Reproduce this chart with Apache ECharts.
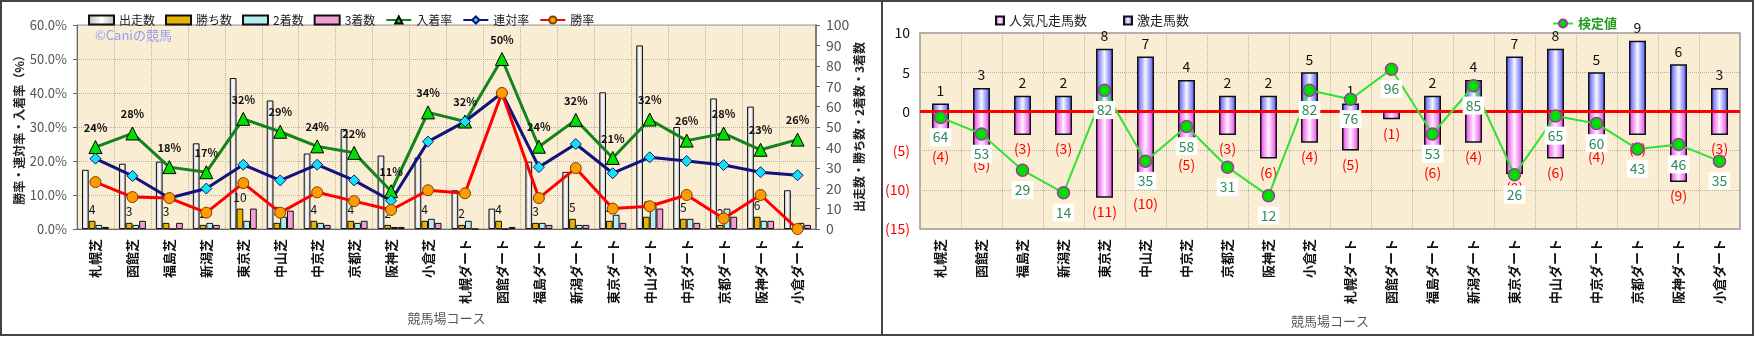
<!DOCTYPE html>
<html>
<head>
<meta charset="utf-8">
<script src="https://cdn.jsdelivr.net/npm/echarts/dist/echarts.min.js"></script>
<style>
html,body{margin:0;padding:0;background:#fff;}
#c{width:1756px;height:337px;}
</style>
</head>
<body>
<div id="c"></div>
<script>
// コース別成績（左）と激走・凡走馬数／検定値（右）
const courses = ['札幌芝','函館芝','福島芝','新潟芝','東京芝','中山芝','中京芝','京都芝','阪神芝','小倉芝',
  '札幌ダート','函館ダート','福島ダート','新潟ダート','東京ダート','中山ダート','中京ダート','京都ダート','阪神ダート','小倉ダート'];

// 左：頭数
const starts  = [29, 32, 33, 42, 74, 63, 37, 49, 36, 35, 19, 10, 33, 28, 67, 90, 50, 64, 60, 19];
const wins    = [4, 3, 3, 2, 10, 3, 4, 4, 2, 4, 2, 4, 3, 5, 4, 6, 5, 2, 6, 0];
const seconds = [2, 2, 0, 3, 4, 6, 3, 3, 1, 5, 4, 0, 3, 2, 7, 13, 5, 10, 4, 3];
const thirds  = [1, 4, 3, 2, 10, 9, 2, 4, 1, 3, 0, 1, 2, 2, 3, 10, 3, 6, 4, 2];

// 左：率（%）
const placeRate = [24.1, 28.1, 18.2, 16.7, 32.4, 28.6, 24.3, 22.4, 11.1, 34.3, 31.6, 50.0, 24.2, 32.1, 20.9, 32.2, 26.0, 28.1, 23.3, 26.3];
const quinellaRate = [20.7, 15.6, 9.1, 11.9, 18.9, 14.3, 18.9, 14.3, 8.3, 25.7, 31.6, 40.0, 18.2, 25.0, 16.4, 21.1, 20.0, 18.8, 16.7, 15.8];
const winRate = [13.8, 9.4, 9.1, 4.8, 13.5, 4.8, 10.8, 8.2, 5.6, 11.4, 10.5, 40.0, 9.1, 17.9, 6.0, 6.7, 10.0, 3.1, 10.0, 0.0];

// 右：馬数と検定値
const upsetHorses = [1, 3, 2, 2, 8, 7, 4, 2, 2, 5, 1, 0, 2, 4, 7, 8, 5, 9, 6, 3];
const flopHorses  = [4, 5, 3, 3, 11, 10, 5, 3, 6, 4, 5, 1, 6, 4, 8, 6, 4, 3, 9, 3];
const testValue   = [64, 53, 29, 14, 82, 35, 58, 31, 12, 82, 76, 96, 53, 85, 26, 65, 60, 43, 46, 35];

const FONT = '"Noto Sans CJK JP", "Noto Sans", sans-serif';
const PLOT_BG = '#f9edd3';
const GRID_LINE = { show: true, lineStyle: { color: '#b9b0a0', type: 'dotted', width: 1 } };

const hGrad = (edge, mid) => new echarts.graphic.LinearGradient(0, 0, 1, 0, [
  { offset: 0, color: edge }, { offset: 0.5, color: mid }, { offset: 1, color: edge }
]);

const chart = echarts.init(document.getElementById('c'));

const catAxis = (gridIndex, nameGap) => ({
  type: 'category', gridIndex, data: courses,
  name: '競馬場コース', nameLocation: 'middle', nameGap,
  nameTextStyle: { color: '#555', fontSize: 13, fontFamily: FONT },
  axisLine: { show: gridIndex === 0, lineStyle: { color: '#666' } },
  axisTick: { show: false },
  axisLabel: { interval: 0, rotate: 90, margin: 10, color: '#111', fontSize: 13, fontWeight: 'bold', fontFamily: FONT },
  splitLine: Object.assign({ interval: 0 }, GRID_LINE)
});

const option = {
  animation: false,
  textStyle: { fontFamily: FONT },
  graphic: [
    { type: 'rect', shape: { x: 1, y: 1, width: 881, height: 334 }, style: { fill: 'none', stroke: '#444', lineWidth: 2 }, silent: true },
    { type: 'rect', shape: { x: 882, y: 1, width: 871, height: 334 }, style: { fill: 'none', stroke: '#444', lineWidth: 2 }, silent: true },
    { type: 'text', left: 95, top: 29, z: 5, style: { text: '©Caniの競馬', fill: '#9a9af2', font: '13px ' + FONT } }
  ],
  legend: [
    {
      left: 83, top: 9, itemWidth: 25, itemHeight: 9, itemGap: 10,
      textStyle: { fontSize: 12, color: '#222', fontFamily: FONT },
      data: [
        { name: '出走数', icon: 'rect' }, { name: '勝ち数', icon: 'rect' },
        { name: '2着数', icon: 'rect' }, { name: '3着数', icon: 'rect' },
        '入着率', '連対率', '勝率'
      ]
    },
    {
      left: 990, top: 9, itemWidth: 8, itemHeight: 8, itemGap: 36, icon: 'rect',
      textStyle: { fontSize: 13, color: '#222', fontFamily: FONT },
      data: ['人気凡走馬数', '激走馬数']
    },
    {
      left: 1547, top: 12, itemWidth: 20, itemHeight: 10,
      textStyle: { fontSize: 13, color: '#229a22', fontWeight: 'bold', fontFamily: FONT },
      data: ['検定値']
    }
  ],
  grid: [
    { left: 77, right: 940, top: 25, bottom: 108, show: true, backgroundColor: PLOT_BG, borderColor: '#999', borderWidth: 1 },
    { left: 920, right: 16, top: 33, bottom: 108, show: true, backgroundColor: PLOT_BG, borderColor: '#999', borderWidth: 1.5 }
  ],
  xAxis: [catAxis(0, 77), catAxis(1, 86)],
  yAxis: [
    {
      type: 'value', gridIndex: 0, min: 0, max: 60, interval: 10,
      name: '勝率・連対率・入着率（%）', nameLocation: 'middle', nameRotate: 90, nameGap: 43,
      nameTextStyle: { fontSize: 12, color: '#222', fontWeight: 'bold', fontFamily: FONT },
      axisLine: { show: true, lineStyle: { color: '#666' } },
      axisTick: { show: true, length: 4, lineStyle: { color: '#666' } },
      axisLabel: { color: '#555', fontSize: 13, margin: 10, formatter: v => v.toFixed(1) + '%' },
      splitLine: GRID_LINE
    },
    {
      type: 'value', gridIndex: 0, position: 'right', min: 0, max: 100, interval: 10,
      name: '出走数・勝ち数・2着数・3着数', nameLocation: 'middle', nameRotate: 90, nameGap: 37,
      nameTextStyle: { fontSize: 12, color: '#222', fontWeight: 'bold', fontFamily: FONT },
      axisLine: { show: true, lineStyle: { color: '#666', width: 1.5 } },
      axisTick: { show: true, length: 4, lineStyle: { color: '#666' } },
      axisLabel: { color: '#555', fontSize: 14, margin: 10 },
      splitLine: { show: false }
    },
    {
      type: 'value', gridIndex: 1, min: -15, max: 10, interval: 5,
      axisLine: { show: false }, axisTick: { show: false },
      axisLabel: {
        fontSize: 14, margin: 10,
        formatter: v => v < 0 ? '(' + (-v) + ')' : String(v),
        color: v => (v < 0 ? '#ff0000' : '#111')
      },
      splitLine: GRID_LINE
    },
    { type: 'value', gridIndex: 1, min: -10, max: 120, show: false }
  ],
  series: [
    {
      name: '出走数', type: 'bar', xAxisIndex: 0, yAxisIndex: 1, data: starts,
      barGap: '0%', barCategoryGap: '27%',
      itemStyle: { color: hGrad('#b8b8b8', '#ffffff'), borderColor: '#111', borderWidth: 1 }
    },
    {
      name: '勝ち数', type: 'bar', xAxisIndex: 0, yAxisIndex: 1, data: wins,
      itemStyle: { color: '#e8b400', borderColor: '#111', borderWidth: 1 },
      label: { show: true, position: 'top', distance: 5, fontSize: 12, color: '#111', formatter: p => p.value > 0 ? p.value : '' }
    },
    {
      name: '2着数', type: 'bar', xAxisIndex: 0, yAxisIndex: 1, data: seconds,
      itemStyle: { color: '#b6eef0', borderColor: '#111', borderWidth: 1 }
    },
    {
      name: '3着数', type: 'bar', xAxisIndex: 0, yAxisIndex: 1, data: thirds,
      itemStyle: { color: '#f0a0d2', borderColor: '#111', borderWidth: 1 }
    },
    {
      name: '入着率', type: 'line', xAxisIndex: 0, yAxisIndex: 0, data: placeRate, z: 4,
      symbol: 'triangle', symbolSize: 13,
      lineStyle: { color: '#14841a', width: 3 },
      itemStyle: { color: '#00e000', borderColor: '#000', borderWidth: 1 },
      label: { show: true, position: 'top', distance: 7, fontSize: 11, fontWeight: 'bold', color: '#111', formatter: p => Math.round(p.value) + '%' }
    },
    {
      name: '連対率', type: 'line', xAxisIndex: 0, yAxisIndex: 0, data: quinellaRate, z: 4,
      symbol: 'diamond', symbolSize: 11,
      lineStyle: { color: '#12127c', width: 3 },
      itemStyle: { color: '#12e2f2', borderColor: '#12127c', borderWidth: 1 }
    },
    {
      name: '勝率', type: 'line', xAxisIndex: 0, yAxisIndex: 0, data: winRate, z: 4,
      symbol: 'circle', symbolSize: 11,
      lineStyle: { color: '#ff0000', width: 3 },
      itemStyle: { color: '#ff9a00', borderColor: '#7a4200', borderWidth: 1 }
    },
    {
      name: '人気凡走馬数', type: 'bar', xAxisIndex: 1, yAxisIndex: 2, data: flopHorses.map(v => -v),
      barWidth: 17, barGap: '-100%',
      itemStyle: { color: hGrad('#e83ae8', '#fff2ff'), borderColor: '#111', borderWidth: 1.5 },
      label: { show: true, position: 'bottom', distance: 7, fontSize: 14, color: '#ff0000', formatter: p => '(' + (-p.value) + ')' }
    },
    {
      name: '激走馬数', type: 'bar', xAxisIndex: 1, yAxisIndex: 2, data: upsetHorses,
      barWidth: 17, barGap: '-100%',
      itemStyle: { color: hGrad('#4a4af5', '#f4f6ff'), borderColor: '#111', borderWidth: 1.5 },
      label: { show: true, position: 'top', distance: 6, fontSize: 14, color: '#111', formatter: p => p.value > 0 ? p.value : '' },
      markLine: {
        silent: true, symbol: 'none', label: { show: false },
        lineStyle: { color: '#ff0000', width: 3, type: 'solid' },
        data: [{ yAxis: 0 }]
      }
    },
    {
      name: '検定値', type: 'line', xAxisIndex: 1, yAxisIndex: 3, data: testValue, z: 5,
      symbol: 'circle', symbolSize: 12,
      lineStyle: { color: '#33e033', width: 2 },
      itemStyle: { color: '#00dd00', borderColor: '#9a3a9a', borderWidth: 1.5 },
      label: { show: true, position: 'bottom', distance: 4, fontSize: 14, color: '#2e8b57', backgroundColor: '#ffffff', padding: [2, 3] }
    }
  ]
};

chart.setOption(option);
</script>
</body>
</html>
